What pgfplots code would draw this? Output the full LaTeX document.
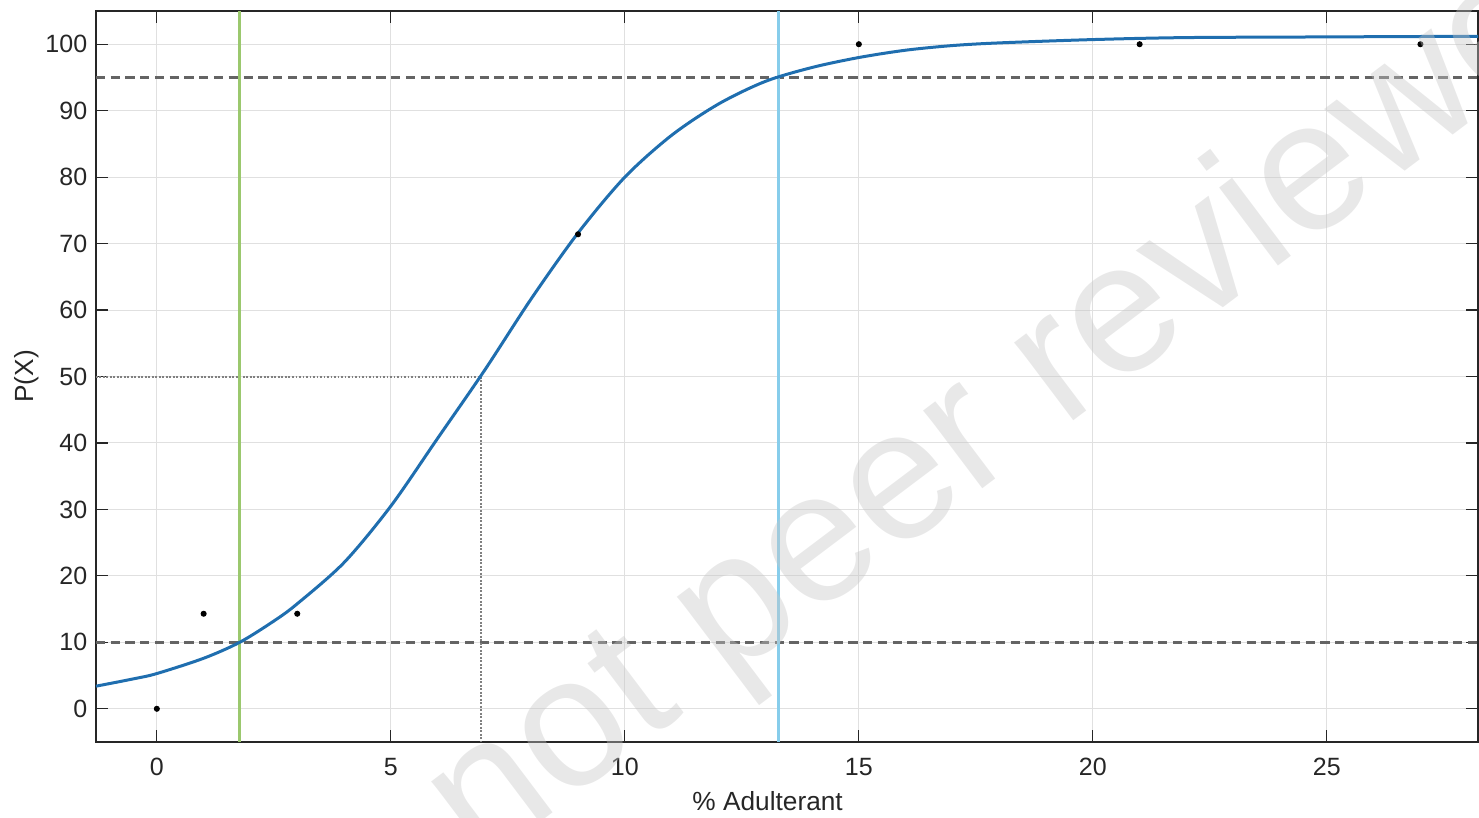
\documentclass[border=0pt]{standalone}
\usepackage{pgfplots}
\pgfplotsset{compat=1.18}
\usepackage{fontspec}
\setmainfont{Liberation Sans}
\definecolor{axgray}{RGB}{38,38,38}
\definecolor{gridgray}{RGB}{224,224,224}
\definecolor{curveblue}{RGB}{31,110,175}
\definecolor{lgreen}{RGB}{155,200,110}
\definecolor{lblue}{RGB}{135,205,235}
\definecolor{dashgray}{RGB}{100,100,100}
\definecolor{wm}{RGB}{198,198,198}
\begin{document}
\begin{tikzpicture}
\useasboundingbox (-38.4pt,-30pt) rectangle (553.2pt,296.8pt);
\clip (-38.4pt,-30pt) rectangle (553.2pt,296.8pt);
\begin{axis}[
  at={(0pt,0pt)}, anchor=south west,
  scale only axis, width=552.8pt, height=292.4pt,
  xmin=-1.3, xmax=28.23, ymin=-5, ymax=105,
  xtick={0,5,10,15,20,25}, ytick={0,10,20,30,40,50,60,70,80,90,100},
  grid=major, grid style={gridgray, line width=0.4pt},
  axis line style={axgray, line width=0.5pt},
  tick style={axgray, line width=0.5pt},
  major tick length=5pt,
  tick align=inside, xtick pos=both, ytick pos=both,
  /pgf/number format/assume math mode=true,
  ticklabel style={font=\fontsize{10}{12}\selectfont, text=axgray},
  xticklabel style={yshift=-2.8pt},
  xlabel={\% Adulterant}, ylabel={P(X)},
  xlabel style={at={(axis description cs:0.486,0)}, anchor=center, yshift=-23.6pt, font=\fontsize{10.5}{12}\selectfont, text=axgray},
  ylabel style={at={(axis description cs:-0.05,0.5)}, anchor=center, font=\fontsize{10.5}{12}\selectfont, text=axgray},
]
\addplot[dashgray, line width=1pt, dash pattern=on 3.7pt off 2.2pt] coordinates {(-1.3,95) (28.23,95)};
\addplot[dashgray, line width=1pt, dash pattern=on 3.7pt off 2.2pt] coordinates {(-1.3,10) (28.23,10)};
\addplot[gray, line width=0.8pt, dash pattern=on 0.7pt off 0.7pt] coordinates {(-1.3,50) (6.92,50) (6.92,-5)};
\addplot[lgreen, line width=1.1pt] coordinates {(1.77,-5) (1.77,105)};
\addplot[lblue, line width=1.1pt] coordinates {(13.29,-5) (13.29,105)};
\addplot[curveblue, line width=1.2pt, smooth] coordinates {
(-1.3,3.4) (-0.5,4.5) (0,5.3) (1,7.6) (1.77,10.0) (2.5,13.2) (3,15.8) (4,22.0) (5,30.5) (6,40.7) (7,50.9) (8,61.7) (9,71.6) (10,80.0) (11,86.3) (12,91.0) (13,94.4) (14,96.5) (15,98.0) (16,99.1) (17,99.8) (18,100.2) (20,100.7) (22,101.0) (25,101.1) (28.23,101.2)};
\addplot[only marks, mark=*, mark size=1pt, black] coordinates {(0,0) (1,14.3) (3,14.3) (9,71.4) (15,100) (21,100) (27,100)};
\end{axis}
\node[rotate=37, text=wm, opacity=0.4, font=\fontsize{74}{76}\selectfont] at (377pt,142pt) {not peer reviewed};
\end{tikzpicture}
\end{document}
